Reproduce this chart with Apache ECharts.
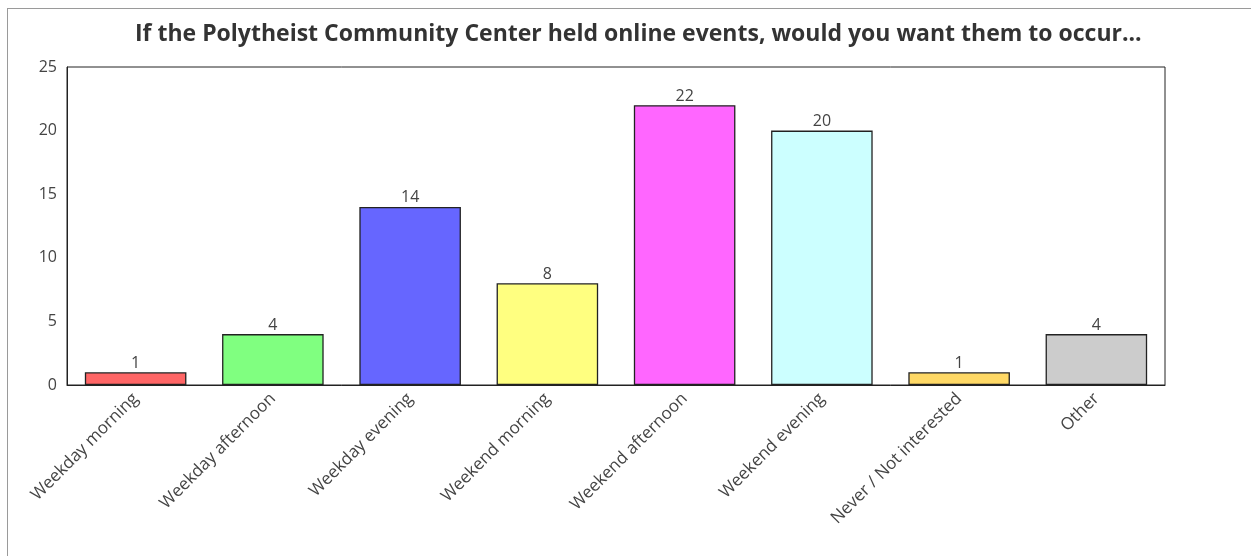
<!DOCTYPE html>
<html>
<head>
<meta charset="utf-8">
<script src="https://cdn.jsdelivr.net/npm/echarts@6/dist/echarts.min.js"></script>
<style>
  html, body { margin: 0; padding: 0; background: #fff; }
  #frame { position: absolute; left: 7px; top: 8px; width: 1300px; height: 600px; border: 1px solid #9a9a9a; box-sizing: border-box; }
  #chart { position: absolute; left: 0; top: 0; width: 1251px; height: 556px; }
</style>
</head>
<body>
<div id="frame"></div>
<div id="chart"></div>
<script>
const titleText = 'If the Polytheist Community Center held online events, would you want them to occur...';
const categories = ['Weekday morning', 'Weekday afternoon', 'Weekday evening', 'Weekend morning',
  'Weekend afternoon', 'Weekend evening', 'Never / Not interested', 'Other'];
const counts = [1, 4, 14, 8, 22, 20, 1, 4];
const barColors = ['#ff6666', '#80ff80', '#6666ff', '#ffff80', '#ff66ff', '#ccffff', '#ffd966', '#cccccc'];
const yTicks = { min: 0, max: 25, interval: 5 };

const font = '"Open Sans", "Noto Sans", sans-serif';
const chart = echarts.init(document.getElementById('chart'), null, { renderer: 'canvas' });
chart.setOption({
  animation: false,
  backgroundColor: 'transparent',
  title: {
    text: titleText,
    left: 130,
    top: 18,
    textStyle: { fontFamily: font, fontSize: 23, fontWeight: 'bold', color: '#333' }
  },
  grid: {
    left: 67, top: 67, right: 86, bottom: 171,
    show: true, borderColor: '#222', borderWidth: 1, backgroundColor: 'transparent'
  },
  xAxis: {
    type: 'category',
    data: categories,
    axisLine: { show: true, lineStyle: { color: '#222', width: 1 } },
    axisTick: { show: false },
    axisLabel: {
      rotate: 45, interval: 0, margin: 11,
      fontFamily: font, fontSize: 17, color: '#444'
    }
  },
  yAxis: {
    type: 'value',
    min: yTicks.min, max: yTicks.max, interval: yTicks.interval,
    axisLine: { show: true, lineStyle: { color: '#222', width: 1 } },
    axisTick: { show: false },
    splitLine: { show: false },
    axisLabel: { fontFamily: font, fontSize: 16, color: '#444', margin: 10 }
  },
  series: [{
    type: 'bar',
    data: counts.map((v, i) => ({ value: v, itemStyle: { color: barColors[i] } })),
    barCategoryGap: '26%',
    itemStyle: { borderColor: '#222', borderWidth: 1.3 },
    label: {
      show: true, position: 'top', distance: 1,
      fontFamily: font, fontSize: 16, color: '#444'
    }
  }]
});
</script>
</body>
</html>
